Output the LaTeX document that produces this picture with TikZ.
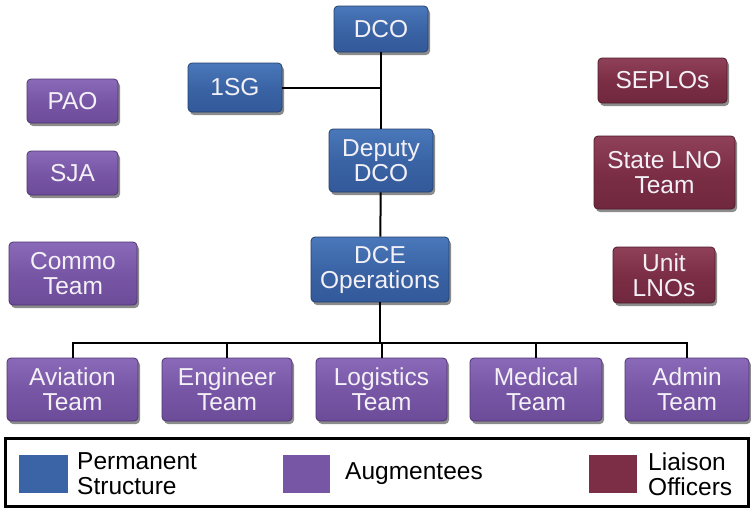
\documentclass[tikz,border=0pt]{standalone}
\usepackage{fontspec}
\setmainfont{Liberation Sans}
\usepackage{tikz}
\usetikzlibrary{shadows}
\definecolor{permblue}{HTML}{3A64A5}
\definecolor{permtop}{HTML}{4A78BA}
\definecolor{permbot}{HTML}{33599A}
\definecolor{permedge}{HTML}{24406E}
\definecolor{augpurple}{HTML}{7856A6}
\definecolor{augtop}{HTML}{8A6AB8}
\definecolor{augbot}{HTML}{6C4C99}
\definecolor{augedge}{HTML}{4E3572}
\definecolor{liaisonred}{HTML}{7B2E46}
\definecolor{liaisontop}{HTML}{8E4158}
\definecolor{liaisonbot}{HTML}{70283F}
\definecolor{liaisonedge}{HTML}{521B2D}
\definecolor{boxtext}{HTML}{F3F0F6}
\tikzset{
  orgbox/.style={rounded corners=4pt, inner sep=0pt, align=center, line width=0.8pt,
    text=boxtext, font=\fontsize{24.5}{25}\selectfont,
    drop shadow={shadow xshift=2pt, shadow yshift=-3pt, fill=black, opacity=0.45}},
  permbox/.style={orgbox, draw=permedge, top color=permtop, bottom color=permbot, middle color=permblue},
  augbox/.style={orgbox, draw=augedge, top color=augtop, bottom color=augbot, middle color=augpurple},
  liaisonbox/.style={orgbox, draw=liaisonedge, top color=liaisontop, bottom color=liaisonbot, middle color=liaisonred},
  legendtext/.style={anchor=west, inner sep=0pt, align=left, font=\fontsize{24.5}{25}\selectfont}
}
\begin{document}
\begin{tikzpicture}[x=1pt, y=-1pt]
  \useasboundingbox[fill=white] (0,0) rectangle (751,509);
  % command chain
  \node[permbox, minimum width=94pt, minimum height=46pt] (dco) at (381, 29) {DCO};
  \node[permbox, minimum width=94pt, minimum height=49pt] (sg) at (235, 87.5) {1SG};
  \node[permbox, minimum width=104pt, minimum height=63pt] (dep) at (381, 160.5) {Deputy\\DCO};
  \node[permbox, minimum width=138pt, minimum height=65pt] (dce) at (380, 269.5) {DCE\\Operations};
  % staff on the left
  \node[augbox, minimum width=91pt, minimum height=44pt] (pao) at (72.5, 101) {PAO};
  \node[augbox, minimum width=91pt, minimum height=44pt] (sja) at (72.5, 173) {SJA};
  \node[augbox, minimum width=128pt, minimum height=63pt] (commo) at (73, 273.5) {Commo\\Team};
  % liaison officers on the right
  \node[liaisonbox, minimum width=129pt, minimum height=45pt] (seplo) at (662.5, 80.5) {SEPLOs};
  \node[liaisonbox, minimum width=141pt, minimum height=73pt] (slno) at (664.5, 172.5) {State LNO\\Team};
  \node[liaisonbox, minimum width=102pt, minimum height=56pt] (ulno) at (664, 275) {Unit\\LNOs};
  % teams
  \foreach \x/\w/\n/\t in {72.5/131/avn/Aviation, 227/130/eng/Engineer, 381.5/131/log/Logistics,
                           536/132/med/Medical, 687/124/adm/Admin}
  {
  \node[augbox, minimum width=\w pt, minimum height=63pt] (\n) at (\x, 389.5) {\t\\Team};
  }
  \coordinate (bus) at (380, 343);
  \draw[line width=2pt] (dco) -- (dep);
  \draw[line width=2pt] (dep) -- (dce);
  \draw[line width=2pt] (sg.east) -- (sg.east -| dco.south);
  \draw[line width=2pt] (dce.south) -- (bus);
  \draw[line width=2pt] (avn.north) |- (bus) -| (adm.north);
  \foreach \n in {eng, log, med}
  {
  \draw[line width=2pt] (\n.north) -- (\n.north |- bus);
  }
  % legend
  \draw[line width=3pt] (5, 438) rectangle (748, 506);
  \fill[permblue] (19, 455) rectangle (68, 493);
  \fill[augpurple] (283, 455) rectangle (330, 493);
  \fill[liaisonred] (589, 455) rectangle (637, 493);
  \node[legendtext] (permlbl) at (77, 474) {Permanent\\Structure};
  \node[legendtext] (auglbl) at (345, 474) {Augmentees};
  \node[legendtext] (liaisonlbl) at (648, 474) {Liaison\\Officers};
\end{tikzpicture}
\end{document}
